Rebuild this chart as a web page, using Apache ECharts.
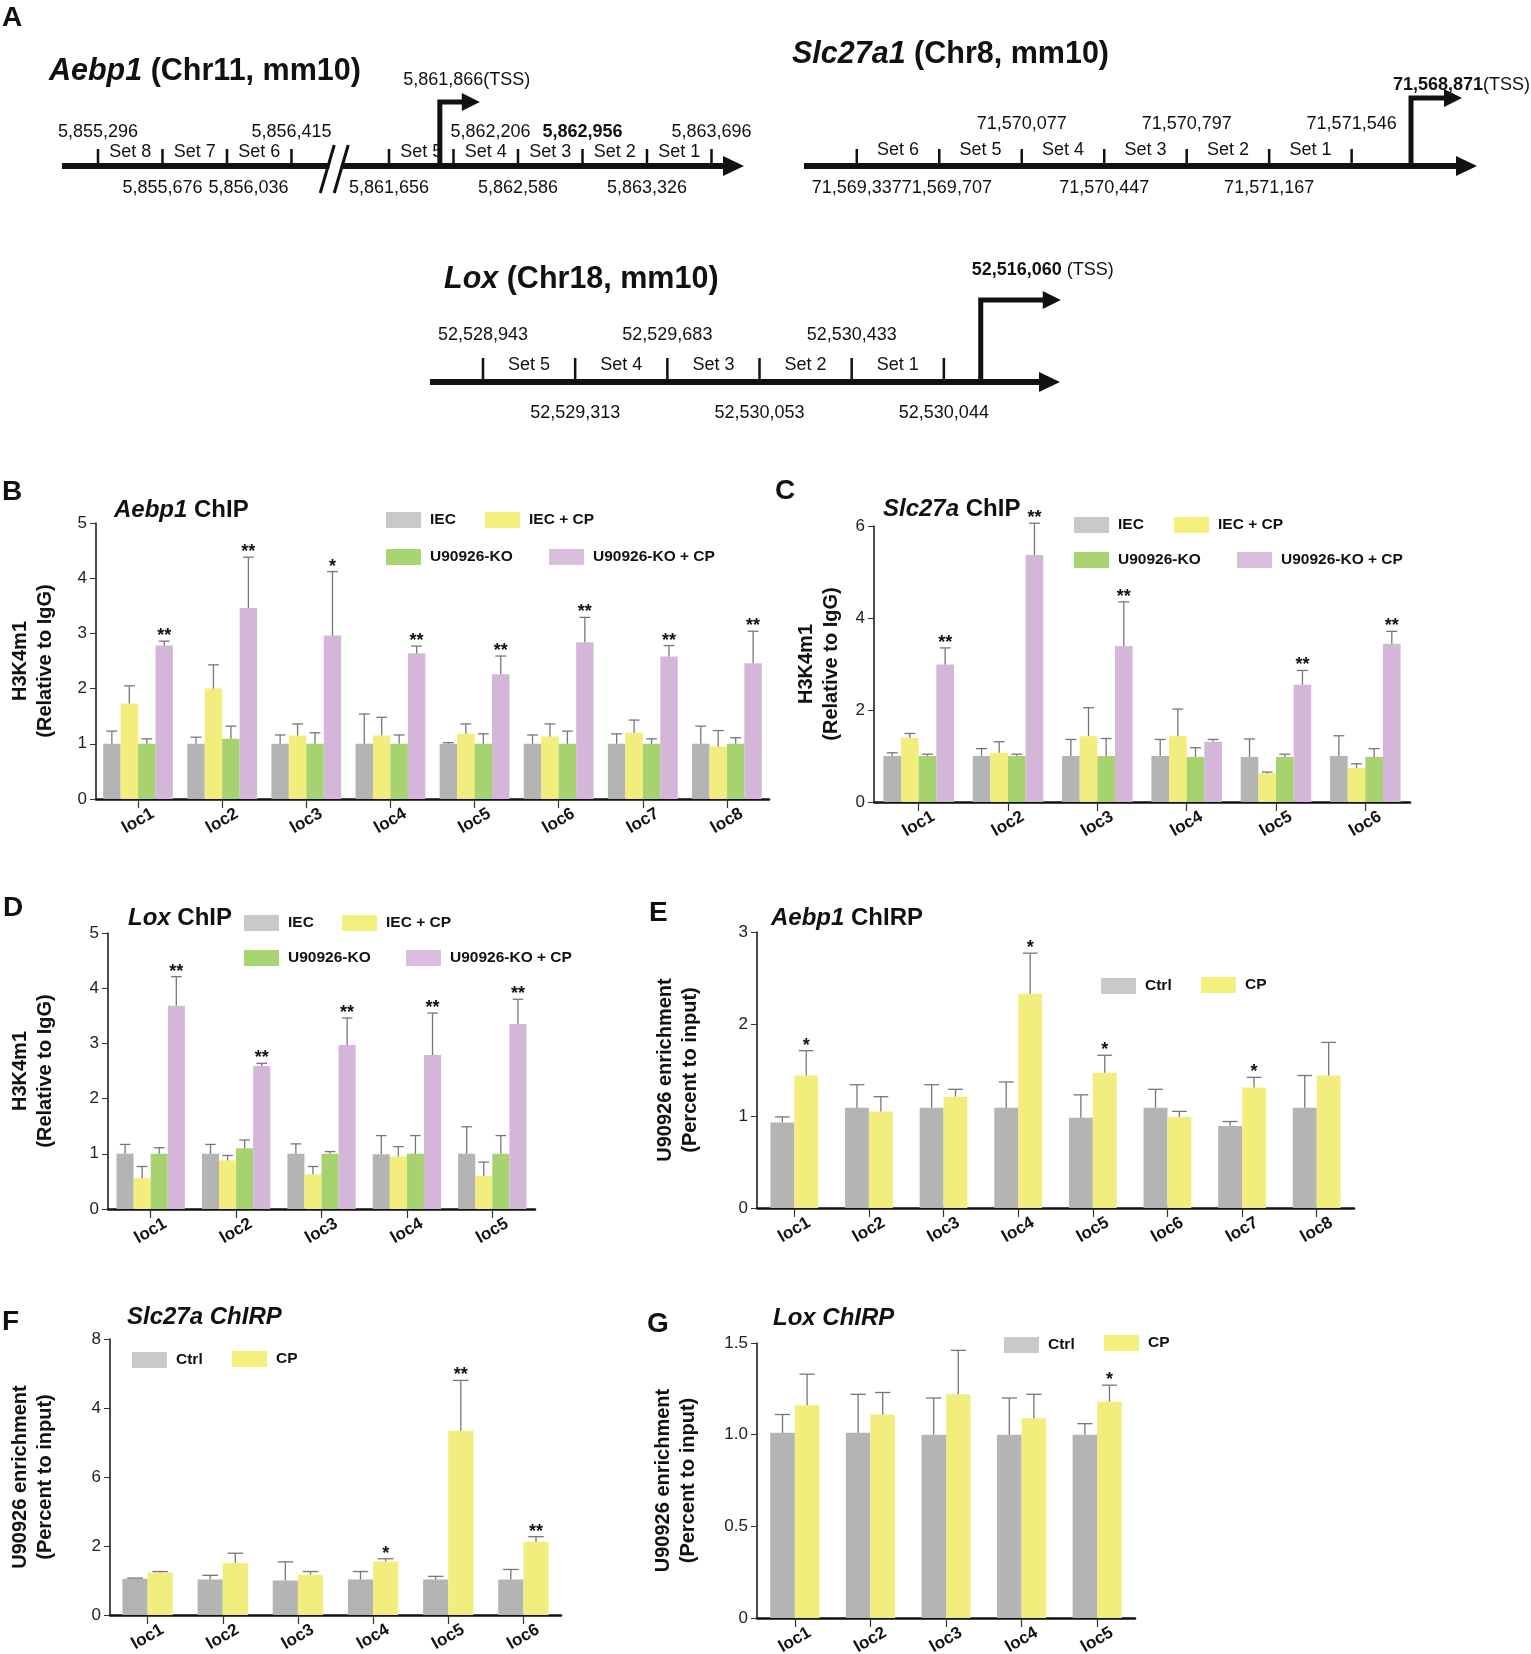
<!DOCTYPE html>
<html>
<head>
<meta charset="utf-8">
<script src="https://cdn.jsdelivr.net/npm/echarts@6/dist/echarts.min.js"></script>
<style>
html, body { margin: 0; padding: 0; background: #fff; }
#main { width: 1531px; height: 1654px; }
</style>
</head>
<body>
<div id="main"></div>
<script>
// ---------- data: gene schematics (panel A) ----------
var aebp1Coords = ['5,855,296', '5,855,676', '5,856,036', '5,856,415', '5,861,656', '5,862,206', '5,862,586', '5,862,956', '5,863,326', '5,863,696'];
var aebp1Side = ['up', 'down', 'down', 'up', 'down', 'up', 'down', 'up', 'down', 'up'];
var aebp1Sets = ['Set 8', 'Set 7', 'Set 6', '', 'Set 5', 'Set 4', 'Set 3', 'Set 2', 'Set 1'];
var aebp1Bold = ['5,862,956'];
var aebp1Tss = '5,861,866';

var slcCoords = ['71,569,337', '71,569,707', '71,570,077', '71,570,447', '71,570,797', '71,571,167', '71,571,546'];
var slcSide = ['down', 'down', 'up', 'down', 'up', 'down', 'up'];
var slcSets = ['Set 6', 'Set 5', 'Set 4', 'Set 3', 'Set 2', 'Set 1'];
var slcTss = '71,568,871';

var loxCoords = ['52,528,943', '52,529,313', '52,529,683', '52,530,053', '52,530,433', '52,530,044'];
var loxSide = ['up', 'down', 'up', 'down', 'up', 'down'];
var loxSets = ['Set 5', 'Set 4', 'Set 3', 'Set 2', 'Set 1'];
var loxTss = '52,516,060';

// ---------- data: ChIP (B, C, D) ----------
var bLoci = ['loc1', 'loc2', 'loc3', 'loc4', 'loc5', 'loc6', 'loc7', 'loc8'];
var bIec = [1, 1, 1, 1, 1, 1, 1, 1];
var bIecSd = [0.23, 0.12, 0.16, 0.54, 0.02, 0.16, 0.18, 0.32];
var bIecCp = [1.73, 2.0, 1.15, 1.15, 1.18, 1.13, 1.2, 0.95];
var bIecCpSd = [0.32, 0.43, 0.21, 0.33, 0.18, 0.23, 0.23, 0.29];
var bKo = [1.0, 1.09, 1.0, 1.0, 1.0, 1.0, 1.0, 1.0];
var bKoSd = [0.09, 0.23, 0.2, 0.16, 0.18, 0.23, 0.09, 0.11];
var bKoCp = [2.78, 3.46, 2.96, 2.64, 2.26, 2.84, 2.58, 2.46];
var bKoCpSd = [0.08, 0.92, 1.16, 0.13, 0.33, 0.45, 0.2, 0.58];
var bStars = ['**', '**', '*', '**', '**', '**', '**', '**'];

var cLoci = ['loc1', 'loc2', 'loc3', 'loc4', 'loc5', 'loc6'];
var cIec = [1, 1, 1, 1, 0.98, 1];
var cIecSd = [0.07, 0.16, 0.36, 0.36, 0.39, 0.44];
var cIecCp = [1.39, 1.07, 1.43, 1.43, 0.62, 0.74];
var cIecCpSd = [0.1, 0.24, 0.62, 0.59, 0.03, 0.09];
var cKo = [1, 1, 1, 0.98, 0.98, 0.98];
var cKoSd = [0.04, 0.04, 0.38, 0.2, 0.06, 0.18];
var cKoCp = [2.99, 5.37, 3.39, 1.31, 2.55, 3.44];
var cKoCpSd = [0.36, 0.69, 0.96, 0.05, 0.31, 0.27];
var cStars = ['**', '**', '**', '', '**', '**'];

var dLoci = ['loc1', 'loc2', 'loc3', 'loc4', 'loc5'];
var dIec = [1, 1, 1, 0.99, 1];
var dIecSd = [0.17, 0.17, 0.18, 0.34, 0.49];
var dIecCp = [0.56, 0.88, 0.63, 0.95, 0.6];
var dIecCpSd = [0.21, 0.09, 0.14, 0.18, 0.25];
var dKo = [1, 1.1, 1, 1, 1];
var dKoSd = [0.11, 0.15, 0.04, 0.33, 0.33];
var dKoCp = [3.68, 2.59, 2.97, 2.79, 3.35];
var dKoCpSd = [0.53, 0.05, 0.49, 0.76, 0.45];
var dStars = ['**', '**', '**', '**', '**'];

// ---------- data: ChIRP (E, F, G) ----------
var eLoci = ['loc1', 'loc2', 'loc3', 'loc4', 'loc5', 'loc6', 'loc7', 'loc8'];
var eCtrl = [0.93, 1.09, 1.09, 1.09, 0.98, 1.09, 0.89, 1.09];
var eCtrlSd = [0.06, 0.25, 0.25, 0.28, 0.25, 0.2, 0.05, 0.35];
var eCp = [1.44, 1.05, 1.21, 2.33, 1.47, 0.99, 1.31, 1.44];
var eCpSd = [0.27, 0.16, 0.08, 0.44, 0.19, 0.06, 0.11, 0.36];
var eStars = ['*', '', '', '*', '*', '', '*', ''];

var fLoci = ['loc1', 'loc2', 'loc3', 'loc4', 'loc5', 'loc6'];
var fCtrl = [1.05, 1.03, 1.0, 1.03, 1.03, 1.03];
var fCtrlSd = [0.02, 0.12, 0.54, 0.23, 0.09, 0.29];
var fCp = [1.23, 1.51, 1.17, 1.55, 5.34, 2.12];
var fCpSd = [0.03, 0.28, 0.09, 0.08, 1.46, 0.15];
var fStars = ['', '', '', '*', '**', '**'];
var fTickLabels = ['0', '2', '6', '4', '8'];

var gLoci = ['loc1', 'loc2', 'loc3', 'loc4', 'loc5'];
var gCtrl = [1.01, 1.01, 1.0, 1.0, 1.0];
var gCtrlSd = [0.1, 0.21, 0.2, 0.2, 0.06];
var gCp = [1.16, 1.11, 1.22, 1.09, 1.18];
var gCpSd = [0.17, 0.12, 0.24, 0.13, 0.09];
var gStars = ['', '', '', '', '*'];
var gTickLabels = ['0', '0.5', '1.0', '1.5'];

// ---------- styles ----------
var FONT = '"Liberation Sans", Arial, Helvetica, sans-serif';
var INK = '#111';
var GRAY = '#b4b4b4', YEL = '#f2ee7e', GRN = '#a6d270', LIL = '#d4b6d9';
// legend swatches are drawn a touch lighter than the bars
var SWATCH = { 'IEC': '#c9c9c9', 'IEC + CP': '#f4f07c', 'U90926-KO': '#a8d472', 'U90926-KO + CP': '#d9bedd', 'Ctrl': '#c9c9c9', 'CP': '#f4f07c' };
var DIAG_FS = 18;

var measure = document.createElement('canvas').getContext('2d');
function textW(s, bold) {
    measure.font = (bold ? 'bold ' : '') + DIAG_FS + 'px ' + FONT;
    return measure.measureText(s).width;
}

var titles = [], legends = [], grids = [], xAxes = [], yAxes = [], series = [];

function addTitle(text, left, top, size, italic, rich) {
    titles.push({
        text: text, left: left, top: top, padding: 0,
        textStyle: {
            fontFamily: FONT, fontSize: size, fontWeight: 'bold', color: INK,
            fontStyle: italic ? 'italic' : 'normal',
            rich: rich ? { i: { fontFamily: FONT, fontSize: size, fontWeight: 'bold', fontStyle: 'italic', color: INK } } : undefined
        }
    });
}

function addLegend(name, x, y) {
    legends.push({
        data: [{ name: name, itemStyle: { color: SWATCH[name] } }], left: x, top: y, padding: 0,
        itemWidth: 35, itemHeight: 16, icon: 'rect', selectedMode: false,
        textStyle: { fontFamily: FONT, fontSize: 15.5, fontWeight: 'bold', color: INK, padding: [0, 0, 0, 4] }
    });
}

function errRender(n, k, gap, sds, stars) {
    return function (params, api) {
        var ci = api.value(0), v = api.value(1);
        var sd = sds[params.dataIndex];
        var band = api.size([1, 0])[0];
        var gw = band * (1 - gap);
        var bw = gw / n;
        var base = api.coord([ci, 0]);
        var cx = base[0] - gw / 2 + bw * (k + 0.5);
        var yv = api.coord([ci, v])[1];
        var yt = api.coord([ci, v + sd])[1];
        var cw = bw * 0.62;
        var st = { stroke: '#777', lineWidth: 1.3 };
        var ch = [
            { type: 'line', shape: { x1: cx, y1: yv, x2: cx, y2: yt }, style: st },
            { type: 'line', shape: { x1: cx - cw / 2, y1: yt, x2: cx + cw / 2, y2: yt }, style: st }
        ];
        var s = stars ? stars[params.dataIndex] : '';
        if (s) {
            ch.push({ type: 'text', x: cx, y: yt + 4, style: { text: s, fill: INK, fontFamily: FONT, fontSize: 18, fontWeight: 'bold', align: 'center', verticalAlign: 'bottom' } });
        }
        return { type: 'group', children: ch };
    };
}

function barPanel(p) {
    var gi = grids.length;
    grids.push({ left: p.left, top: p.top, width: p.width, height: p.height, outerBoundsMode: 'none' });
    xAxes.push({
        type: 'category', gridIndex: gi, data: p.cats, boundaryGap: true,
        axisLine: { show: true, lineStyle: { color: INK, width: 2.5 } },
        axisTick: { show: true, alignWithLabel: true, length: 9, lineStyle: { color: '#333', width: 1.2 } },
        axisLabel: { rotate: 30, align: 'center', verticalAlign: 'middle', margin: 22, fontFamily: FONT, fontSize: 17, fontWeight: 'bold', color: INK },
        splitLine: { show: false }
    });
    yAxes.push({
        type: 'value', gridIndex: gi, min: 0, max: p.max, interval: p.interval,
        name: p.yName, nameLocation: 'middle', nameGap: p.nameGap, nameRotate: 90,
        nameTextStyle: { fontFamily: FONT, fontSize: 20, fontWeight: 'bold', color: INK, lineHeight: 25, align: 'center' },
        axisLine: { show: true, lineStyle: { color: INK, width: 1.5 } },
        axisTick: { show: true, length: 6, lineStyle: { color: '#333' } },
        axisLabel: { fontFamily: FONT, fontSize: 17, color: '#222', margin: 9, formatter: p.fmt },
        splitLine: { show: false }
    });
    var n = p.groups.length;
    p.groups.forEach(function (g, k) {
        series.push({
            type: 'bar', name: g.name, xAxisIndex: gi, yAxisIndex: gi, data: g.values,
            barGap: '0%', barCategoryGap: (p.gap * 100) + '%',
            itemStyle: { color: g.color }, z: 2, silent: true
        });
        series.push({
            type: 'custom', name: 'err', xAxisIndex: gi, yAxisIndex: gi, clip: false, silent: true, z: 3,
            data: g.values.map(function (v, i) { return [i, v]; }),
            renderItem: errRender(n, k, p.gap, g.sd, g.stars)
        });
    });
    p.legend.forEach(function (l) { addLegend(l[0], l[1], l[2]); });
}

function genePanel(g) {
    var gi = grids.length;
    grids.push({ left: g.left, top: g.lineY - 100, width: g.width, height: 100, outerBoundsMode: 'none' });
    xAxes.push({ type: 'value', gridIndex: gi, min: g.min, max: g.max, show: false });
    yAxes.push({ type: 'value', gridIndex: gi, min: 0, max: 1, show: false });
    var pos = g.coords.map(function (c, i) {
        return i + (g.breakAfter != null && i > g.breakAfter ? g.breakGap : 0);
    });
    var isBold = function (c) { return !!g.bold && g.bold.indexOf(c) >= 0; };
    var txt = function (t, x, y, bold) {
        return { type: 'text', x: x, y: y, style: { text: t, fill: INK, fontFamily: FONT, fontSize: DIAG_FS, fontWeight: bold ? 'bold' : 'normal', align: 'center', verticalAlign: 'middle' } };
    };
    // label centres: start at the boundary, step right of the TSS arrow, and push apart when neighbours collide
    var labelCenters = function (api) {
        var tx = api.coord([g.tssPos, 0])[0];
        var cs = [];
        g.coords.forEach(function (c, i) {
            var x = api.coord([pos[i], 0])[0];
            var w = textW(c, isBold(c));
            var cx = (x > tx && x - tx < 25) ? x - 3 + w / 2 : x;
            if (i > 0 && g.side[i] === g.side[i - 1]) {
                var pw = textW(g.coords[i - 1], isBold(g.coords[i - 1]));
                var need = cs[i - 1] + pw / 2 + g.labelPad - (cx - w / 2);
                if (need > 0) cx += need;
            }
            cs.push(cx);
        });
        return cs;
    };
    // axis line, TSS arrow, break
    series.push({
        type: 'custom', xAxisIndex: gi, yAxisIndex: gi, clip: false, silent: true, z: 2,
        data: [[g.min, g.max]],
        renderItem: function (params, api) {
            var a = api.coord([api.value(0), 0]), b = api.coord([api.value(1), 0]);
            var t = api.coord([g.tssPos, 0]);
            var y = a[1], ty = y - g.tssTop, tx2 = t[0] + g.tssLen;
            var ch = [
                { type: 'line', shape: { x1: a[0], y1: y, x2: b[0] - 16, y2: y }, style: { stroke: INK, lineWidth: 6 } },
                { type: 'polygon', shape: { points: [[b[0], y], [b[0] - 21, y - 10], [b[0] - 21, y + 10]] }, style: { fill: INK } },
                { type: 'polyline', shape: { points: [[t[0], y + 3], [t[0], ty], [tx2 - 14, ty]] }, style: { stroke: INK, lineWidth: 5, fill: null, lineJoin: 'miter' } },
                { type: 'polygon', shape: { points: [[tx2, ty], [tx2 - 18, ty - 9], [tx2 - 18, ty + 9]] }, style: { fill: INK } }
            ];
            var tssText = (g.tssBold ? '{b|' + g.tss + '}' : g.tss) + g.tssSuffix;
            ch.push({
                type: 'text', x: t[0] + g.tssDx, y: y + g.tssDy,
                style: { text: tssText, fill: INK, fontFamily: FONT, fontSize: DIAG_FS, align: g.tssAlign, verticalAlign: 'middle',
                    rich: { b: { fontFamily: FONT, fontSize: DIAG_FS, fontWeight: 'bold', fill: INK } } }
            });
            if (g.breakAfter != null) {
                var bx = api.coord([pos[g.breakAfter] + (1 + g.breakGap) / 2, 0])[0];
                ch.push({ type: 'polygon', shape: { points: [[bx - 12, y + 6], [bx - 9, y - 6], [bx + 2, y - 6], [bx - 1, y + 6]] }, style: { fill: '#fff' } });
                ch.push({ type: 'line', shape: { x1: bx - 20, y1: y + 27, x2: bx - 6, y2: y - 21 }, style: { stroke: INK, lineWidth: 3 } });
                ch.push({ type: 'line', shape: { x1: bx - 6, y1: y + 27, x2: bx + 8, y2: y - 21 }, style: { stroke: INK, lineWidth: 3 } });
            }
            return { type: 'group', children: ch };
        }
    });
    // set boundaries, coordinates and set names
    series.push({
        type: 'custom', xAxisIndex: gi, yAxisIndex: gi, clip: false, silent: true, z: 3,
        data: pos.map(function (x) { return [x, 0]; }),
        renderItem: function (params, api) {
            var i = params.dataIndex;
            var p = api.coord([api.value(0), 0]);
            var cs = labelCenters(api);
            var ch = [{ type: 'line', shape: { x1: p[0], y1: p[1] - g.tickH, x2: p[0], y2: p[1] }, style: { stroke: INK, lineWidth: 2.5 } }];
            var up = g.side[i] === 'up';
            ch.push(txt(g.coords[i], cs[i], p[1] + (up ? g.upDy : g.downDy), isBold(g.coords[i])));
            if (g.sets[i]) {
                var q = api.coord([pos[i + 1], 0]);
                ch.push(txt(g.sets[i], (p[0] + q[0]) / 2, p[1] + g.setDy, false));
            }
            return { type: 'group', children: ch };
        }
    });
    addTitle('{i|' + g.name + '} ' + g.chr, g.titleLeft, g.titleTop, 30.5, false, true);
}

// ---------- panel A ----------
addTitle('A', 2, 4, 28);
genePanel({
    name: 'Aebp1', chr: '(Chr11, mm10)', coords: aebp1Coords, side: aebp1Side, sets: aebp1Sets, bold: aebp1Bold,
    tss: aebp1Tss, tssBold: false, tssSuffix: '(TSS)', tssAlign: 'center', tssDx: 27, tssDy: -86,
    left: 62, width: 682, min: -0.558, max: 10.016, lineY: 166, breakAfter: 3, breakGap: 0.512,
    tssPos: 5.30, tssTop: 64, tssLen: 40, tickH: 17, upDy: -34, downDy: 22, setDy: -14, labelPad: 6,
    titleLeft: 49, titleTop: 56
});
genePanel({
    name: 'Slc27a1', chr: '(Chr8, mm10)', coords: slcCoords, side: slcSide, sets: slcSets,
    tss: slcTss, tssBold: true, tssSuffix: '(TSS)', tssAlign: 'left', tssDx: -18, tssDy: -81,
    left: 804, width: 673, min: -0.64, max: 7.52, lineY: 166,
    tssPos: 6.72, tssTop: 68, tssLen: 51, tickH: 17, upDy: -42, downDy: 22, setDy: -16, labelPad: 0,
    titleLeft: 792, titleTop: 39
});
genePanel({
    name: 'Lox', chr: '(Chr18, mm10)', coords: loxCoords, side: loxSide, sets: loxSets,
    tss: loxTss, tssBold: true, tssSuffix: ' (TSS)', tssAlign: 'left', tssDx: -9, tssDy: -112,
    left: 430, width: 630, min: -0.575, max: 6.26, lineY: 382,
    tssPos: 5.40, tssTop: 82, tssLen: 80, tickH: 24, upDy: -47, downDy: 31, setDy: -17, labelPad: 4,
    titleLeft: 444, titleTop: 264
});

// ---------- panels B-G ----------
var chipName = 'H3K4m1\n(Relative to IgG)';
var chirpName = 'U90926 enrichment\n(Percent to input)';

addTitle('B', 2, 478, 28);
addTitle('{i|Aebp1} ChIP', 114, 498, 24, false, true);
barPanel({
    left: 96, top: 523, width: 673, height: 276, max: 5, interval: 1, gap: 0.17,
    cats: bLoci, yName: chipName, nameGap: 38,
    groups: [
        { name: 'IEC', values: bIec, sd: bIecSd, color: GRAY },
        { name: 'IEC + CP', values: bIecCp, sd: bIecCpSd, color: YEL },
        { name: 'U90926-KO', values: bKo, sd: bKoSd, color: GRN },
        { name: 'U90926-KO + CP', values: bKoCp, sd: bKoCpSd, color: LIL, stars: bStars }
    ],
    legend: [['IEC', 386, 512], ['IEC + CP', 485, 512], ['U90926-KO', 386, 549], ['U90926-KO + CP', 549, 549]]
});

addTitle('C', 775, 477, 28);
addTitle('{i|Slc27a} ChIP', 883, 497, 24, false, true);
barPanel({
    left: 874, top: 526, width: 536, height: 276, max: 6, interval: 2, gap: 0.21,
    cats: cLoci, yName: chipName, nameGap: 30,
    groups: [
        { name: 'IEC', values: cIec, sd: cIecSd, color: GRAY },
        { name: 'IEC + CP', values: cIecCp, sd: cIecCpSd, color: YEL },
        { name: 'U90926-KO', values: cKo, sd: cKoSd, color: GRN },
        { name: 'U90926-KO + CP', values: cKoCp, sd: cKoCpSd, color: LIL, stars: cStars }
    ],
    legend: [['IEC', 1074, 517], ['IEC + CP', 1174, 517], ['U90926-KO', 1074, 552], ['U90926-KO + CP', 1237, 552]]
});

addTitle('D', 3, 894, 28);
addTitle('{i|Lox} ChIP', 128, 906, 24, false, true);
barPanel({
    left: 108, top: 933, width: 427, height: 276, max: 5, interval: 1, gap: 0.2,
    cats: dLoci, yName: chipName, nameGap: 50,
    groups: [
        { name: 'IEC', values: dIec, sd: dIecSd, color: GRAY },
        { name: 'IEC + CP', values: dIecCp, sd: dIecCpSd, color: YEL },
        { name: 'U90926-KO', values: dKo, sd: dKoSd, color: GRN },
        { name: 'U90926-KO + CP', values: dKoCp, sd: dKoCpSd, color: LIL, stars: dStars }
    ],
    legend: [['IEC', 244, 915], ['IEC + CP', 342, 915], ['U90926-KO', 244, 950], ['U90926-KO + CP', 406, 950]]
});

addTitle('E', 649, 899, 28);
addTitle('{i|Aebp1} ChIRP', 771, 906, 24, false, true);
barPanel({
    left: 757, top: 932, width: 597, height: 276, max: 3, interval: 1, gap: 0.36,
    cats: eLoci, yName: chirpName, nameGap: 54,
    groups: [
        { name: 'Ctrl', values: eCtrl, sd: eCtrlSd, color: GRAY },
        { name: 'CP', values: eCp, sd: eCpSd, color: YEL, stars: eStars }
    ],
    legend: [['Ctrl', 1101, 978], ['CP', 1201, 977]]
});

addTitle('F', 2, 1308, 28);
addTitle('Slc27a ChIRP', 127, 1305, 24, true);
barPanel({
    left: 110, top: 1339, width: 451, height: 276, max: 8, interval: 2, gap: 0.33,
    cats: fLoci, yName: chirpName, nameGap: 52,
    fmt: function (v) { return fTickLabels[Math.round(v / 2)]; },
    groups: [
        { name: 'Ctrl', values: fCtrl, sd: fCtrlSd, color: GRAY },
        { name: 'CP', values: fCp, sd: fCpSd, color: YEL, stars: fStars }
    ],
    legend: [['Ctrl', 132, 1352], ['CP', 232, 1351]]
});

addTitle('G', 647, 1310, 28);
addTitle('Lox ChIRP', 773, 1306, 24, true);
barPanel({
    left: 757, top: 1343, width: 378, height: 275, max: 1.5, interval: 0.5, gap: 0.35,
    cats: gLoci, yName: chirpName, nameGap: 56,
    fmt: function (v) { return gTickLabels[Math.round(v / 0.5)]; },
    groups: [
        { name: 'Ctrl', values: gCtrl, sd: gCtrlSd, color: GRAY },
        { name: 'CP', values: gCp, sd: gCpSd, color: YEL, stars: gStars }
    ],
    legend: [['Ctrl', 1004, 1337], ['CP', 1104, 1335]]
});

var option = {
    animation: false,
    backgroundColor: '#fff',
    textStyle: { fontFamily: FONT },
    tooltip: { show: false },
    title: titles,
    legend: legends,
    grid: grids,
    xAxis: xAxes,
    yAxis: yAxes,
    series: series
};

echarts.init(document.getElementById('main')).setOption(option);
</script>
</body>
</html>
